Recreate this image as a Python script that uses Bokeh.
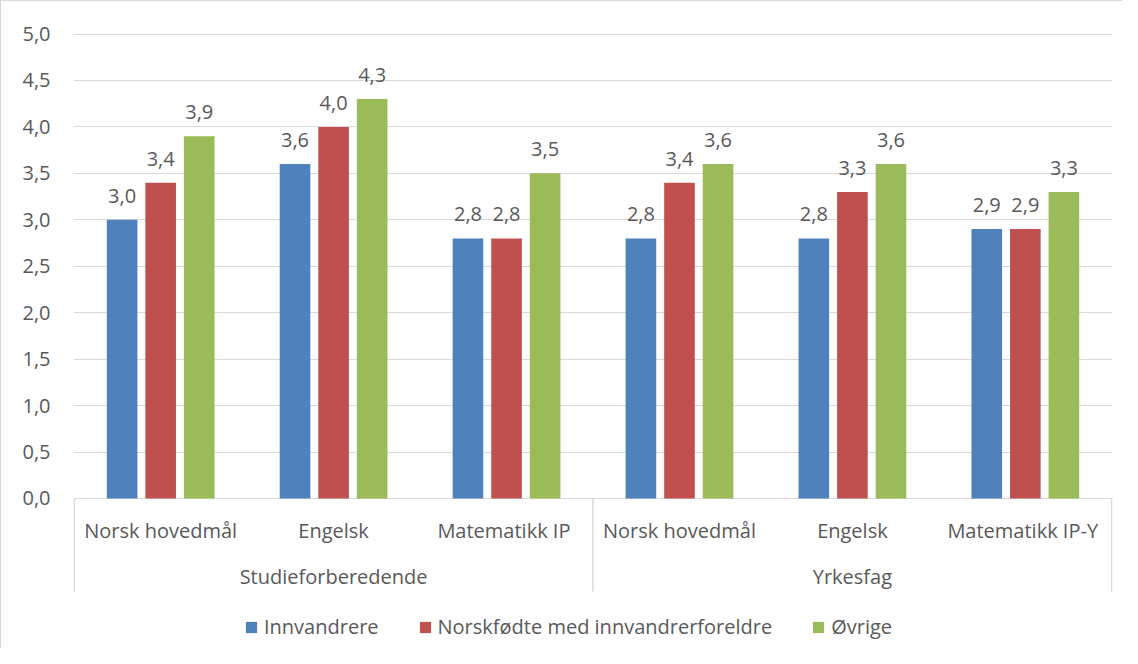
from bokeh.plotting import figure
from bokeh.models import ColumnDataSource, Range1d, FixedTicker, Legend, LegendItem
from bokeh.transform import dodge
from bokeh.core.properties import value
from bokeh.embed import file_html
from bokeh.resources import INLINE

# ---- data ----
groups = ["Studieforberedende", "Studieforberedende", "Studieforberedende",
          "Yrkesfag", "Yrkesfag", "Yrkesfag"]
subjects = ["Norsk hovedmål", "Engelsk", "Matematikk  IP",
            "Norsk hovedmål", "Engelsk", "Matematikk  IP-Y"]
innvandrere = [3.0, 3.6, 2.8, 2.8, 2.8, 2.9]
norskfodte = [3.4, 4.0, 2.8, 3.4, 3.3, 2.9]
ovrige = [3.9, 4.3, 3.5, 3.6, 3.6, 3.3]
series_names = ["Innvandrere", "Norskfødte med innvandrerforeldre", "Øvrige"]
y_ticks = [0.0, 0.5, 1.0, 1.5, 2.0, 2.5, 3.0, 3.5, 4.0, 4.5, 5.0]

# ---- style ----
colors = ["#4F81BD", "#C0504D", "#9BBB59"]
FONT = "Open Sans"
FS = "20px"
TXT = "#595959"
GRID = "#D9D9D9"

def fmt(v):
    return f"{v:.1f}".replace(".", ",")

n = len(subjects)
xs = [i + 0.5 for i in range(n)]

p = figure(width=1122, height=648,
           x_range=Range1d(-0.004, n + 0.004), y_range=Range1d(-1.561, 5.221),
           x_axis_type=None, output_backend="svg", toolbar_location=None,
           min_border_left=72, min_border_right=11, min_border_top=12, min_border_bottom=6)
p.outline_line_color = None
p.background_fill_color = "white"
p.border_fill_color = "white"
p.styles = {"border-left": "1px solid #D9D9D9", "border-top": "1px solid #D9D9D9"}

ticker = FixedTicker(ticks=y_ticks)
p.yaxis.ticker = ticker
p.yaxis.major_label_overrides = {t: fmt(t) for t in y_ticks}
p.yaxis.axis_line_color = None
p.yaxis.major_tick_line_color = None
p.yaxis.minor_tick_line_color = None
p.yaxis.major_tick_out = 0
p.yaxis.major_tick_in = 0
p.yaxis.major_label_standoff = 23
p.yaxis.major_label_text_font = FONT
p.yaxis.major_label_text_font_size = FS
p.yaxis.major_label_text_color = TXT
p.ygrid.ticker = ticker
p.ygrid.grid_line_color = GRID
p.ygrid.grid_line_width = 1

src = ColumnDataSource(dict(
    x=xs, subj=subjects, grp=groups,
    s0=innvandrere, s1=norskfodte, s2=ovrige,
    l0=[fmt(v) for v in innvandrere],
    l1=[fmt(v) for v in norskfodte],
    l2=[fmt(v) for v in ovrige],
))

offsets = [-0.223, 0.0, 0.223]
bar_w = 0.177
renderers = []
for k in range(3):
    r = p.vbar(x=dodge("x", offsets[k], range=p.x_range), top=f"s{k}", bottom=0,
               width=bar_w, source=src, fill_color=colors[k], line_color=None)
    renderers.append(r)
    p.text(x=dodge("x", offsets[k], range=p.x_range), y=f"s{k}", text=f"l{k}",
           source=src, y_offset=-24, text_align="center", text_baseline="middle",
           text_font=value(FONT), text_font_size=FS, text_color=TXT)

# category axis: subject labels
p.text(x="x", y=-0.344, text="subj", source=src, text_align="center",
       text_baseline="middle", text_font=value(FONT), text_font_size=FS, text_color=TXT)

# group labels and separators
uniq = []
for g in groups:
    if g not in uniq:
        uniq.append(g)
gx, gl, sep = [], [], [0.0]
for g in uniq:
    idx = [i for i, gg in enumerate(groups) if gg == g]
    gx.append((min(idx) + max(idx) + 1) / 2.0)
    gl.append(g)
    sep.append(max(idx) + 1.0)
p.text(x=gx, y=[-0.84] * len(gx), text=gl, text_align="center", text_baseline="middle",
       text_font=value(FONT), text_font_size=FS, text_color=TXT)
p.segment(x0=sep, y0=[0] * len(sep), x1=sep, y1=[-1.0] * len(sep),
          line_color=GRID, line_width=1.5)

legend = Legend(items=[LegendItem(label=series_names[k], renderers=[renderers[k]]) for k in range(3)],
                orientation="horizontal", location=(171, 3),
                glyph_width=14, glyph_height=14, label_standoff=6, spacing=39,
                padding=0, margin=0, border_line_color=None, background_fill_alpha=0,
                label_text_font=FONT, label_text_font_size=FS, label_text_color=TXT)
p.add_layout(legend)

open("out.html", "w").write(file_html(p, INLINE))
